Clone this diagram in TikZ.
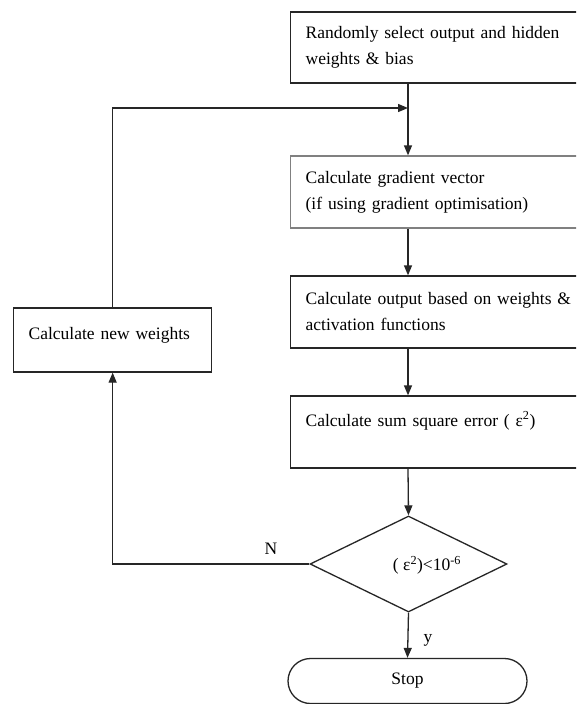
\documentclass[tikz,border=0pt]{standalone}
\usepackage{fontspec}
\setmainfont{Liberation Serif}
\usetikzlibrary{arrows.meta,shapes.geometric,shapes.misc}
\tikzset{
  ln/.style={line width=1.3pt, draw=black!85},
  arr/.style={ln, -{Triangle[length=10pt,width=8pt]}},
  procbox/.style={ln, rectangle, anchor=west, align=left, inner xsep=15pt, inner ysep=0pt,
    text width=275pt, minimum height=72pt, font=\fontsize{17.5}{26}\selectfont},
  lbl/.style={font=\fontsize{17.5}{26}\selectfont, inner sep=0pt}
}
\begin{document}
\begin{tikzpicture}[x=1pt,y=-1pt]
\clip (0,0) rectangle (576,704);
\fill[white] (0,0) rectangle (576,704);
\coordinate (col) at (408,0);
\coordinate (j) at (408,108);
\node[procbox, minimum height=71pt] (b1) at (290,47.5) {Randomly select output and hidden\\weights \& bias};
\node[procbox, draw=black!50] (b2) at (290,192) {Calculate gradient vector\\(if using gradient optimisation)};
\node[procbox] (b3) at (290,312) {Calculate output based on weights \&\\activation functions};
\node[procbox] (b4) at (290,432) {Calculate sum square error ( ε\textsuperscript{2})\\\mbox{}};
\node[procbox, text width=168pt, minimum height=64pt] (nw) at (13,340) {Calculate new weights\\[-12pt]\mbox{}};
\node[ln, diamond, minimum width=197pt, minimum height=96pt, inner sep=0pt] (dec) at (408.5,564) {};
\node[lbl] (dtext) at (427,565) {( ε\textsuperscript{2})<10\textsuperscript{-6}};
\node[ln, rounded rectangle, minimum width=239pt, minimum height=45pt, inner sep=0pt, font=\fontsize{17.5}{26}\selectfont] (stop) at (407.5,681) {Stop};
\node[lbl] (nlab) at (271,549) {N};
\node[lbl] (ylab) at (428,640) {y};
\draw[arr] (b1.south -| col) -- (b2.north -| col);
\draw[arr] (b2.south -| col) -- (b3.north -| col);
\draw[arr] (b3.south -| col) -- (b4.north -| col);
\draw[arr] (b4.south -| col) -- (dec.north);
\draw[arr] (dec.south) -- (stop.north);
\draw[arr] (dec.west) -- (dec.west -| nw) -- (nw.south);
\draw[arr] (nw.north) -- (nw.north |- j) -- (j);
\end{tikzpicture}
\end{document}
